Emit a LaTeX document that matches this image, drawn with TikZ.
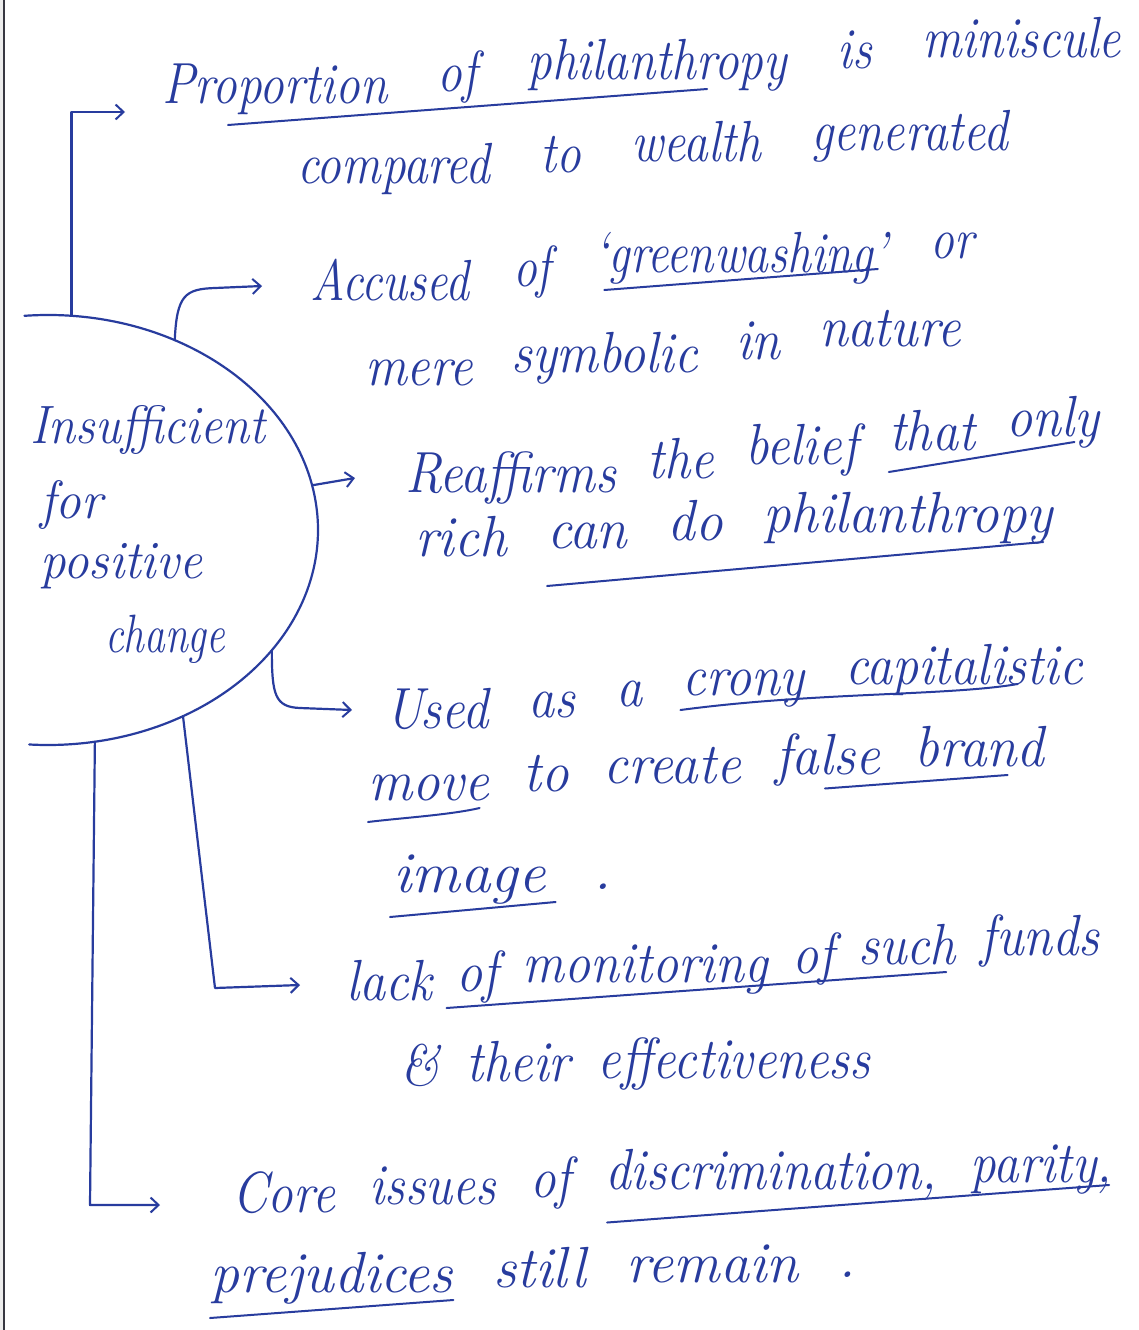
\documentclass[tikz,border=0pt]{standalone}
\usepackage{graphicx}
\usetikzlibrary{arrows.meta,calc}

\definecolor{ink}{RGB}{40,60,158}
\definecolor{scanedge}{RGB}{55,55,65}

% a handwritten word stretched to a given width (pt), natural height kept
\newcommand{\hw}[2]{\resizebox{#1pt}{\height}{#2}}
% words of one written line: horizontal squeeze, gap and rise between words
\def\wsc{0.85}\def\wgap{40}\def\wrise{10}
\newcommand{\wstart}[4]{\node[hand] (#1) at (#2,#3) {\scalebox{\wsc}[1]{#4}};}
\newcommand{\wnext}[3]{\node[hand] (#1) at ($(#2.base east)+(\wgap,-\wrise)$) {\scalebox{\wsc}[1]{#3}};}

\begin{document}
\begin{tikzpicture}[x=1pt,y=-1pt,
  pen/.style={draw=ink, line width=2.2pt, line cap=round, line join=round},
  link/.style={pen, -{Straight Barb[length=8pt,width=15pt,line width=2pt]}},
  hand/.style={text=ink, inner sep=0pt, anchor=base west,
               font=\fontsize{58}{62}\selectfont\itshape},
  hubtext/.style={hand, font=\fontsize{54}{58}\selectfont\itshape},
  underl/.style={pen, line width=2pt},
]
\useasboundingbox (0,0) rectangle (1139,1330);
\fill[white] (0,0) rectangle (1139,1330);
\fill[gray!15] (0,0) rectangle (4,1330);
\draw[scanedge, line width=2.5pt] (4,0) -- (4,1330);

% ---------- central idea ----------
\coordinate (hub) at (48,530);
\draw[pen] ([shift={(-95:270 and 215)}]hub)
  arc[start angle=-95, end angle=94, x radius=270, y radius=215];

\node[hubtext] (h1) at (30,443) {\hw{235}{Insufficient}};
\node[hubtext] (h2) at (40,518) {\hw{62}{for}};
\node[hubtext] (h3) at (40,578) {\hw{162}{positive}};
\node[hubtext] (h4) at (105,652) {\hw{120}{change}};

% points on the outline where the branches leave
\coordinate (a1) at ([shift={(-85:270 and 215)}]hub);
\coordinate (a2) at ([shift={(-62:270 and 215)}]hub);
\coordinate (a3) at ([shift={(-12:270 and 215)}]hub);
\coordinate (a4) at ([shift={(34:270 and 215)}]hub);
\coordinate (a5) at ([shift={(60:270 and 215)}]hub);
\coordinate (a6) at ([shift={(80:270 and 215)}]hub);

% ---------- branch 1 ----------
\def\wsc{0.85}\def\wgap{50}\def\wrise{11.5}
\wstart{p1}{162}{103}{Proportion}
\wnext{p2}{p1}{of}
\wnext{p3}{p2}{philanthropy}
\wnext{p4}{p3}{is}
\wnext{p5}{p4}{miniscule}
\def\wsc{0.85}\def\wgap{50}\def\wrise{11}
\wstart{p6}{297}{183}{compared}
\wnext{p7}{p6}{to}
\wnext{p8}{p7}{wealth}
\wnext{p9}{p8}{generated}

% ---------- branch 2 ----------
\def\wsc{0.82}\def\wgap{43}\def\wrise{14}
\wstart{g1}{310}{300}{Accused}
\wnext{g2}{g1}{of}
\wnext{g3}{g2}{`greenwashing'}
\wnext{g4}{g3}{or}
\def\wsc{0.9}\def\wgap{38}\def\wrise{13}
\wstart{g5}{365}{385}{mere}
\wnext{g6}{g5}{symbolic}
\wnext{g7}{g6}{in}
\wnext{g8}{g7}{nature}

% ---------- branch 3 ----------
\def\wsc{0.9}\def\wgap{31}\def\wrise{14}
\wstart{r1}{405}{492}{Reaffirms}
\wnext{r2}{r1}{the}
\wnext{r3}{r2}{belief}
\wnext{r4}{r3}{that}
\wnext{r5}{r4}{only}
\def\wsc{0.95}\def\wgap{40}\def\wrise{8}
\wstart{r6}{415}{556}{rich}
\wnext{r7}{r6}{can}
\wnext{r8}{r7}{do}
\wnext{r9}{r8}{philanthropy}

% ---------- branch 4 ----------
\def\wsc{0.9}\def\wgap{40}\def\wrise{11}
\wstart{c1}{385}{728}{Used}
\wnext{c2}{c1}{as}
\wnext{c3}{c2}{a}
\wnext{c4}{c3}{crony}
\wnext{c5}{c4}{capitalistic}
\def\wsc{0.95}\def\wgap{34}\def\wrise{8.5}
\wstart{c6}{368}{800}{move}
\wnext{c7}{c6}{to}
\wnext{c8}{c7}{create}
\wnext{c9}{c8}{false}
\wnext{c10}{c9}{brand}
\def\wsc{1.05}\def\wgap{48}\def\wrise{3}
\wstart{c11}{393}{892}{image}
\wnext{c12}{c11}{.}

% ---------- branch 5 ----------
\def\wsc{0.9}\def\wgap{24}\def\wrise{9}
\wstart{m1}{346}{1000}{lack}
\wnext{m2}{m1}{of}
\wnext{m3}{m2}{monitoring}
\wnext{m4}{m3}{of}
\wnext{m5}{m4}{such}
\wnext{m6}{m5}{funds}
\def\wsc{0.9}\def\wgap{27}\def\wrise{3.5}
\wstart{m7}{400}{1085}{\&}
\wnext{m8}{m7}{their}
\wnext{m9}{m8}{effectiveness}

% ---------- branch 6 ----------
\def\wsc{0.88}\def\wgap{34}\def\wrise{7.5}
\wstart{d1}{232}{1212}{Core}
\wnext{d2}{d1}{issues}
\wnext{d3}{d2}{of}
\wnext{d4}{d3}{discrimination,}
\wnext{d5}{d4}{parity,}
\def\wsc{1.0}\def\wgap{40}\def\wrise{5}
\wstart{d6}{210}{1292}{prejudices}
\wnext{d7}{d6}{still}
\wnext{d8}{d7}{remain}
\wnext{d9}{d8}{.}

% ---------- arrow ends and bends ----------
\coordinate (t1) at (125,112);
\coordinate (k2) at (215,288);
\coordinate (t2) at (262,286);
\coordinate (t3) at (355,478);
\coordinate (k4) at (300,708);
\coordinate (t4) at (352,710);
\coordinate (b5) at (215,988);
\coordinate (t5) at (300,985);
\coordinate (b6) at (90,1205);
\coordinate (t6) at (160,1205);

\draw[link] (a1) |- (t1);
\draw[link] (a2) .. controls +(2,-45) and +(-30,1) .. (k2) -- (t2);
\draw[link] (a3) -- (t3);
\draw[link] (a4) .. controls +(0,45) and +(-25,-1) .. (k4) -- (t4);
\draw[link] (a5) -- (b5) -- (t5);
\draw[link] (a6) -- (b6) -- (t6);

% ---------- underlines ----------
\draw[underl] ([shift={(66,22)}]p1.base west) -- ([shift={(-80,9)}]p3.base east);
\draw[underl] ([shift={(10,18)}]g3.base west) -- ([shift={(-10,-3)}]g3.base east);
\draw[underl] ([shift={(0,22)}]r4.base west) -- ([shift={(-25,6)}]r5.base east);
\draw[underl] ([shift={(0,38)}]r7.base west) -- ([shift={(-10,10)}]r9.base east);
\draw[underl] ([shift={(-2,15)}]c4.base west) .. controls +(135,-18) and +(-70,12) .. ([shift={(-65,0)}]c5.base east);
\draw[underl] ([shift={(0,22)}]c6.base west) .. controls +(32,-4) and +(-30,7) .. ([shift={(-10,8)}]c6.base east);
\draw[underl] ([shift={(50,14)}]c9.base west) -- ([shift={(-37,9)}]c10.base east);
\draw[underl] ([shift={(-3,25)}]c11.base west) -- ([shift={(10,10)}]c11.base east);
\draw[underl] ([shift={(-10,17)}]m2.base west) -- ([shift={(-10,8)}]m5.base east);
\draw[underl] ([shift={(2,33)}]d4.base west) -- ([shift={(-3,3)}]d5.base east);
\draw[underl] ([shift={(0,26)}]d6.base west) -- ([shift={(0,8)}]d6.base east);
\end{tikzpicture}
\end{document}
